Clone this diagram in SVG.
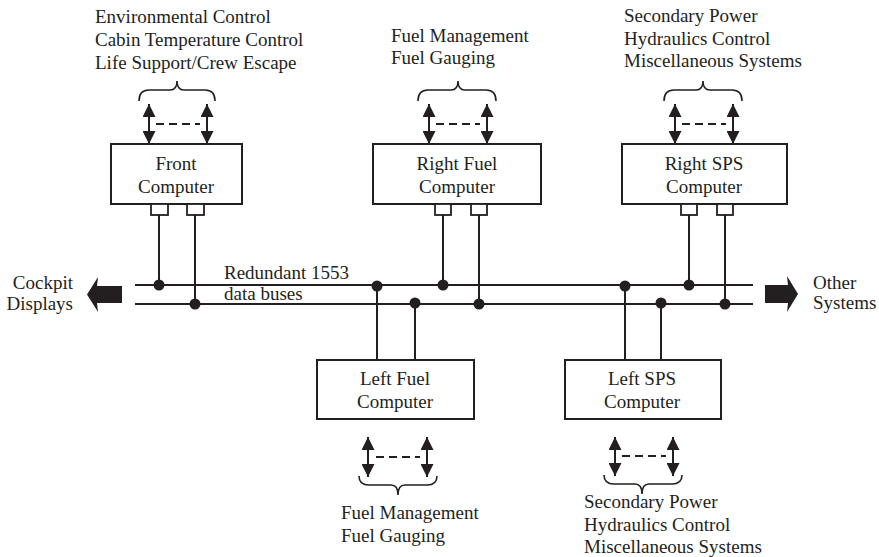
<svg xmlns="http://www.w3.org/2000/svg" width="879" height="557" viewBox="0 0 879 557">
<defs>
<style>
text{font-family:"Liberation Serif","Times New Roman",serif;font-size:19px;fill:#231f20}
.box{fill:#fff;stroke:#231f20;stroke-width:2}
.port{fill:#fff;stroke:#231f20;stroke-width:1.8}
.ln{stroke:#231f20;stroke-width:2;fill:none}
.dash{stroke:#231f20;stroke-width:2;stroke-dasharray:8 5;fill:none}
.brace{stroke:#231f20;stroke-width:1.6;fill:none}
.dot{fill:#231f20}
.blk{fill:#231f20}
.c{text-anchor:middle}
</style>
<marker id="ah" viewBox="0 0 13 13" refX="13" refY="6.5" markerWidth="13" markerHeight="13" markerUnits="userSpaceOnUse" orient="auto-start-reverse">
<path d="M0,0 L13,6.5 L0,13 Z" fill="#231f20"/>
</marker>
</defs>

<g id="connectors">
<!-- buses -->
<line class="ln" x1="135" y1="285" x2="753" y2="285"/>
<line class="ln" x1="135" y1="304" x2="753" y2="304"/>
<!-- front -->
<line class="ln" x1="159" y1="215" x2="159" y2="285"/>
<line class="ln" x1="195" y1="215" x2="195" y2="304"/>
<circle class="dot" cx="159" cy="285" r="5.5"/>
<circle class="dot" cx="195" cy="304" r="5.5"/>
<!-- right fuel -->
<line class="ln" x1="443" y1="215" x2="443" y2="285"/>
<line class="ln" x1="479" y1="215" x2="479" y2="304"/>
<circle class="dot" cx="443" cy="285" r="5.5"/>
<circle class="dot" cx="479" cy="304" r="5.5"/>
<!-- right sps -->
<line class="ln" x1="689" y1="215" x2="689" y2="285"/>
<line class="ln" x1="725" y1="215" x2="725" y2="304"/>
<circle class="dot" cx="689" cy="285" r="5.5"/>
<circle class="dot" cx="725" cy="304" r="5.5"/>
<!-- left fuel -->
<line class="ln" x1="377" y1="285" x2="377" y2="360"/>
<line class="ln" x1="415" y1="304" x2="415" y2="360"/>
<circle class="dot" cx="377" cy="286" r="5.5"/>
<circle class="dot" cx="415" cy="303" r="5.5"/>
<!-- left sps -->
<line class="ln" x1="625" y1="285" x2="625" y2="360"/>
<line class="ln" x1="661" y1="304" x2="661" y2="360"/>
<circle class="dot" cx="625" cy="286" r="5.5"/>
<circle class="dot" cx="661" cy="303" r="5.5"/>

<!-- double arrows top -->
<line class="ln" x1="149" y1="104" x2="149" y2="144" marker-start="url(#ah)" marker-end="url(#ah)"/>
<line class="ln" x1="207" y1="104" x2="207" y2="144" marker-start="url(#ah)" marker-end="url(#ah)"/>
<line class="dash" x1="156" y1="124" x2="200" y2="124"/>
<line class="ln" x1="429" y1="104" x2="429" y2="144" marker-start="url(#ah)" marker-end="url(#ah)"/>
<line class="ln" x1="487" y1="104" x2="487" y2="144" marker-start="url(#ah)" marker-end="url(#ah)"/>
<line class="dash" x1="436" y1="124" x2="480" y2="124"/>
<line class="ln" x1="675" y1="104" x2="675" y2="144" marker-start="url(#ah)" marker-end="url(#ah)"/>
<line class="ln" x1="733" y1="104" x2="733" y2="144" marker-start="url(#ah)" marker-end="url(#ah)"/>
<line class="dash" x1="682" y1="124" x2="726" y2="124"/>
<!-- double arrows bottom -->
<line class="ln" x1="368" y1="437" x2="368" y2="477" marker-start="url(#ah)" marker-end="url(#ah)"/>
<line class="ln" x1="427" y1="437" x2="427" y2="477" marker-start="url(#ah)" marker-end="url(#ah)"/>
<line class="dash" x1="376" y1="457" x2="420" y2="457"/>
<line class="ln" x1="615" y1="437" x2="615" y2="476" marker-start="url(#ah)" marker-end="url(#ah)"/>
<line class="ln" x1="673" y1="437" x2="673" y2="476" marker-start="url(#ah)" marker-end="url(#ah)"/>
<line class="dash" x1="622" y1="456" x2="666" y2="456"/>

<!-- braces top -->
<path class="brace" d="M139,101 Q139,90 149,90 L170,90 Q177,90 177,81 Q177,90 184,90 L205,90 Q215,90 215,101"/>
<path class="brace" d="M418,101 Q418,90 428,90 L451,90 Q458,90 458,81 Q458,90 465,90 L486,90 Q496,90 496,101"/>
<path class="brace" d="M664,101 Q664,90 674,90 L696,90 Q703,90 703,81 Q703,90 710,90 L732,90 Q742,90 742,101"/>
<!-- braces bottom -->
<path class="brace" d="M359,476 Q359,485 369,485 L391,485 Q398,485 398,495 Q398,485 405,485 L427,485 Q437,485 437,476"/>
<path class="brace" d="M604,475 Q604,484 614,484 L635,484 Q642,484 642,494 Q642,484 649,484 L672,484 Q682,484 682,475"/>

<!-- block arrows -->
<path class="blk" d="M87,294.5 L98,277 L97,286 L122,286 L122,303 L97,303 L98,312 Z"/>
<path class="blk" d="M798,294 L787,276 L788,285 L765,285 L765,303 L788,303 L787,312 Z"/>
</g>

<g id="front">
<rect class="box" x="111" y="144" width="131" height="60"/>
<rect class="port" x="151" y="204" width="17" height="11"/>
<rect class="port" x="187" y="204" width="17" height="11"/>
<text class="c" x="176" y="170">Front</text>
<text class="c" x="176" y="193">Computer</text>
</g>
<g id="front-label">
<text x="95" y="23">Environmental Control</text>
<text x="95" y="46">Cabin Temperature Control</text>
<text x="95" y="69">Life Support/Crew Escape</text>
</g>

<g id="right-fuel">
<rect class="box" x="373" y="144" width="168" height="60"/>
<rect class="port" x="435" y="204" width="16" height="11"/>
<rect class="port" x="471" y="204" width="16" height="11"/>
<text class="c" x="457" y="170">Right Fuel</text>
<text class="c" x="457" y="193">Computer</text>
</g>
<g id="right-fuel-label">
<text x="391" y="42">Fuel Management</text>
<text x="391" y="64">Fuel Gauging</text>
</g>

<g id="right-sps">
<rect class="box" x="622" y="144" width="165" height="60"/>
<rect class="port" x="681" y="204" width="16" height="11"/>
<rect class="port" x="717" y="204" width="16" height="11"/>
<text class="c" x="704" y="170">Right SPS</text>
<text class="c" x="704" y="193">Computer</text>
</g>
<g id="right-sps-label">
<text x="624" y="22">Secondary Power</text>
<text x="624" y="45">Hydraulics Control</text>
<text x="624" y="67">Miscellaneous Systems</text>
</g>

<g id="left-fuel">
<rect class="box" x="317" y="360" width="157" height="59"/>
<text class="c" x="395" y="385">Left Fuel</text>
<text class="c" x="395" y="408">Computer</text>
</g>
<g id="left-fuel-label">
<text x="341" y="519">Fuel Management</text>
<text x="341" y="542">Fuel Gauging</text>
</g>

<g id="left-sps">
<rect class="box" x="565" y="360" width="156" height="59"/>
<text class="c" x="642" y="385">Left SPS</text>
<text class="c" x="642" y="408">Computer</text>
</g>
<g id="left-sps-label">
<text x="584" y="508">Secondary Power</text>
<text x="584" y="531">Hydraulics Control</text>
<text x="584" y="553">Miscellaneous Systems</text>
</g>

<g id="cockpit">
<text x="73" y="289" text-anchor="end">Cockpit</text>
<text x="73" y="310" text-anchor="end">Displays</text>
</g>
<g id="other">
<text x="813" y="289">Other</text>
<text x="813" y="309">Systems</text>
</g>
<g id="bus-label">
<text x="224" y="279">Redundant 1553</text>
<text x="224" y="300">data buses</text>
</g>
</svg>
